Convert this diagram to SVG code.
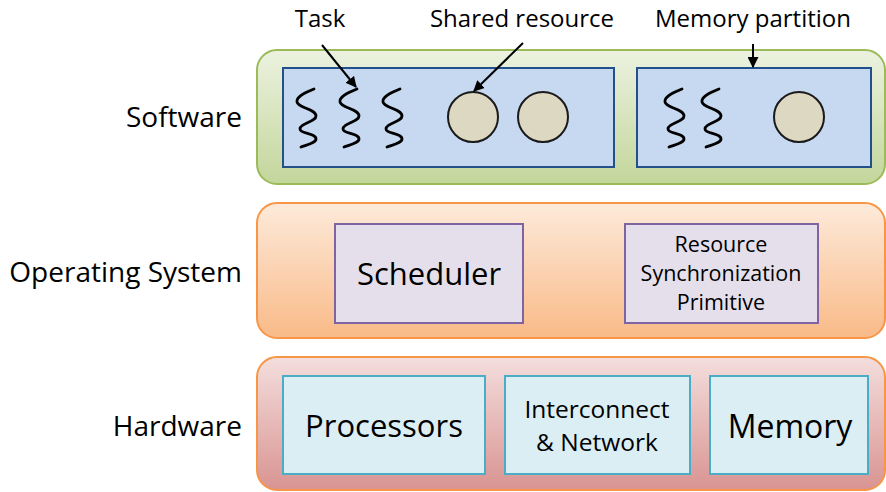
<svg xmlns="http://www.w3.org/2000/svg" width="886" height="492" viewBox="0 0 886 492">
<defs>
<linearGradient id="gSw" x1="0" y1="0" x2="0" y2="1"><stop offset="0" stop-color="#ECF2E0"/><stop offset="1" stop-color="#C3D69B"/></linearGradient>
<linearGradient id="gOs" x1="0" y1="0" x2="0" y2="1"><stop offset="0" stop-color="#FDEADA"/><stop offset="1" stop-color="#F9BA88"/></linearGradient>
<linearGradient id="gHw" x1="0" y1="0" x2="0" y2="1"><stop offset="0" stop-color="#F3DEDD"/><stop offset="1" stop-color="#D99492"/></linearGradient>
<marker id="ah" viewBox="0 0 10 10" refX="9" refY="5" markerWidth="5.5" markerHeight="5.5" orient="auto" markerUnits="strokeWidth"><path d="M0,0 L10,5 L0,10 z" fill="#000"/></marker>
<path id="sq" d="M18,0 C8,4 0,8 1,13 C2,19 20,20 20,27 C20,33 4,34 4,40 C4,45 20,44 20,50 C20,54 10,56 5,58" fill="none" stroke="#000" stroke-width="2.8" stroke-linecap="round"/>
</defs>
<style>
text{font-family:"Open Sans","DejaVu Sans",sans-serif;fill:#000}
.lbl{font-size:28px;text-anchor:end}
.top{font-size:24px;text-anchor:middle}
.mid{text-anchor:middle}
.part{fill:#C6D9F0;stroke:#22508A;stroke-width:2}
.res{fill:#DDD8C2;stroke:#1A1A1A;stroke-width:2}
.os{fill:#E5DFEC;stroke:#8064A2;stroke-width:2}
.hw{fill:#DBEEF4;stroke:#4BACC6;stroke-width:2}
.conn{stroke:#000;stroke-width:2;fill:none}
</style>
<g id="software">
<rect x="257" y="50" width="628" height="134" rx="20" fill="url(#gSw)" stroke="#9BBB59" stroke-width="2"/>
<text class="lbl" x="242" y="127">Software</text>
</g>
<g id="partition1">
<rect class="part" x="283" y="68" width="331" height="99"/>
<use href="#sq" x="296" y="89"/>
<use href="#sq" x="339" y="89"/>
<use href="#sq" x="382" y="89"/>
<circle class="res" cx="473" cy="117" r="25"/>
<circle class="res" cx="543" cy="117" r="25"/>
</g>
<g id="partition2">
<rect class="part" x="637" y="68" width="234" height="99"/>
<use href="#sq" x="664" y="89"/>
<use href="#sq" x="701" y="89"/>
<circle class="res" cx="799" cy="117" r="25"/>
</g>
<g id="os">
<rect x="257" y="203" width="628" height="135" rx="20" fill="url(#gOs)" stroke="#F79646" stroke-width="2"/>
<text class="lbl" x="242" y="282">Operating System</text>
</g>
<g id="scheduler">
<rect class="os" x="335" y="224" width="188" height="99"/>
<text class="mid" x="429" y="285" font-size="31">Scheduler</text>
</g>
<g id="sync">
<rect class="os" x="625" y="224" width="193" height="99"/>
<text class="mid" x="721" y="252" font-size="21.5">Resource</text>
<text class="mid" x="721" y="281" font-size="21.5">Synchronization</text>
<text class="mid" x="721" y="310" font-size="21.5">Primitive</text>
</g>
<g id="hardware">
<rect x="257" y="357" width="628" height="133" rx="20" fill="url(#gHw)" stroke="#F79646" stroke-width="2"/>
<text class="lbl" x="242" y="436">Hardware</text>
</g>
<g id="processors">
<rect class="hw" x="283" y="376" width="202" height="98"/>
<text class="mid" x="384" y="437" font-size="31">Processors</text>
</g>
<g id="interconnect">
<rect class="hw" x="505" y="376" width="185" height="98"/>
<text class="mid" x="597" y="418" font-size="24.5">Interconnect</text>
<text class="mid" x="597" y="451" font-size="24.5">&amp; Network</text>
</g>
<g id="memory">
<rect class="hw" x="710" y="376" width="158" height="98"/>
<text class="mid" x="790" y="438" font-size="32">Memory</text>
</g>
<g id="labels">
<text class="top" x="320" y="27">Task</text>
<text class="top" x="522" y="27">Shared resource</text>
<text class="top" x="753" y="27" font-size="25">Memory partition</text>
</g>
<g id="connectors">
<line class="conn" x1="322" y1="45" x2="356" y2="87" marker-end="url(#ah)"/>
<line class="conn" x1="523" y1="43" x2="474" y2="91" marker-end="url(#ah)"/>
<line class="conn" x1="753" y1="44" x2="753" y2="67" marker-end="url(#ah)"/>
</g>
</svg>
